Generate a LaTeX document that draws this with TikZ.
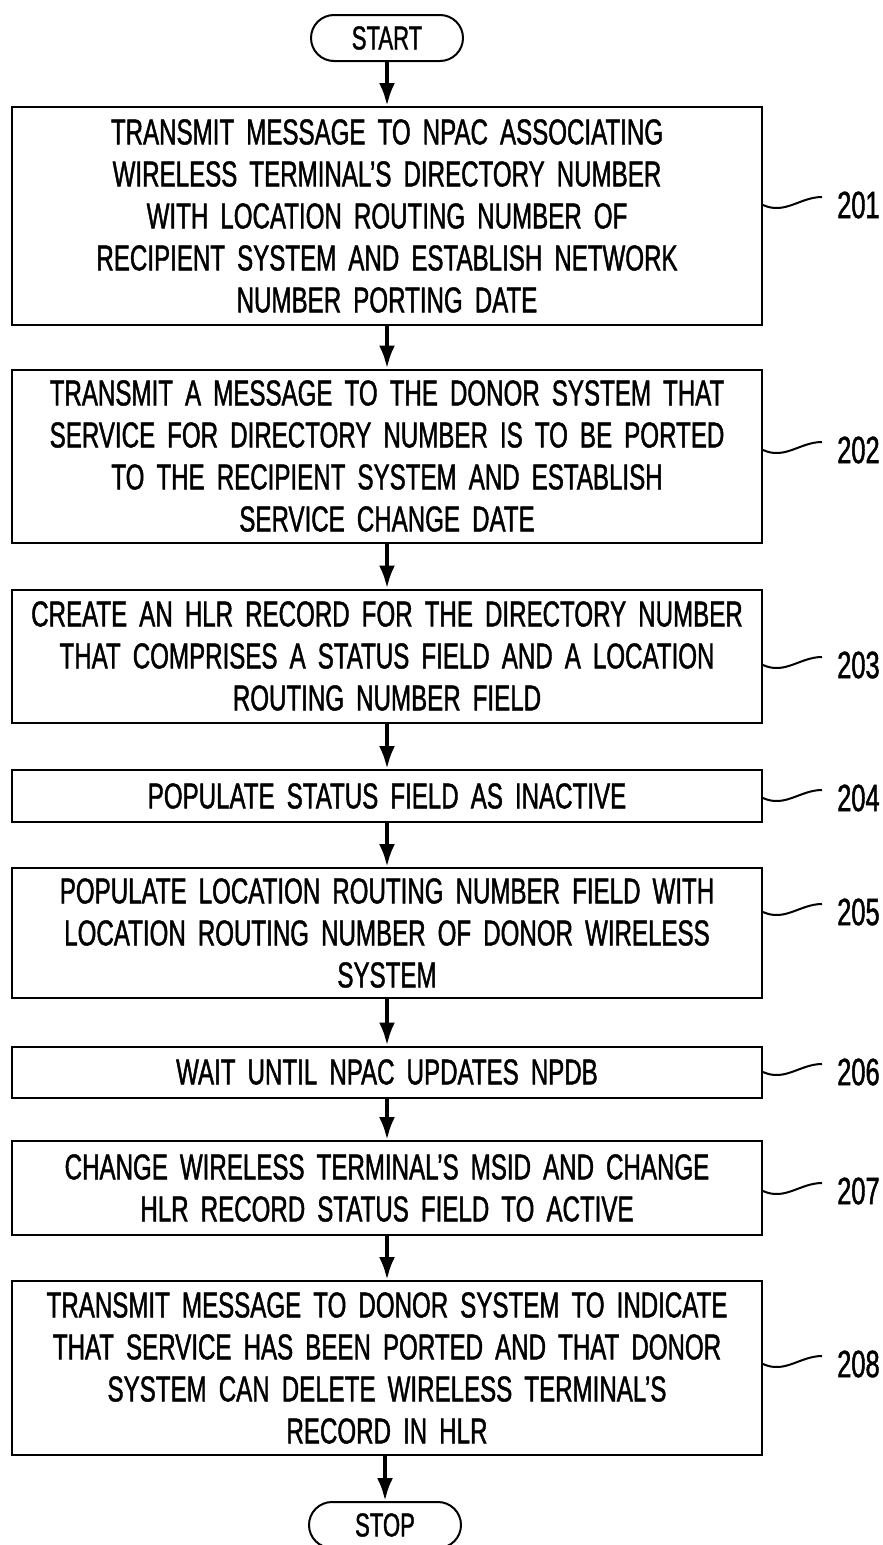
\documentclass[tikz,border=0pt]{standalone}
\usepackage{fontspec}
\setmainfont{Liberation Sans}[FakeStretch=0.67, WordSpace=1.8, FakeBold=1.2]
\usetikzlibrary{arrows.meta}
\tikzset{>={Latex[width=16pt,length=23pt]}}

\begin{document}
\begin{tikzpicture}[x=1pt, y=-1pt,
  stepbox/.style={draw, line width=2pt, minimum width=750pt, inner sep=0pt,
    align=center, font=\fontsize{36}{42}\selectfont},
  termbox/.style={draw, line width=2pt, rounded corners=23pt, minimum width=152pt,
    minimum height=46pt, inner sep=0pt, font=\fontsize{33}{38}\selectfont},
  reflabel/.style={anchor=west, inner sep=0pt, font=\fontsize{38}{42}\selectfont},
  flow/.style={->, line width=4pt},
  lead/.style={line width=2pt}]

\useasboundingbox (0,0) rectangle (883,1545);

%% start and stop
\node[termbox] (start) at (387,38) {START};
\node[termbox] (stop) at (385,1525) {STOP};

%% steps
\node[stepbox, minimum height=218pt] (b201) at (387,216)
{TRANSMIT MESSAGE TO NPAC ASSOCIATING\\WIRELESS TERMINAL'S DIRECTORY NUMBER\\
WITH LOCATION ROUTING NUMBER OF\\RECIPIENT SYSTEM AND ESTABLISH NETWORK\\
NUMBER PORTING DATE};
\node[stepbox, minimum height=173pt] (b202) at (387,456)
{TRANSMIT A MESSAGE TO THE DONOR SYSTEM THAT\\SERVICE FOR DIRECTORY NUMBER IS TO BE PORTED\\
TO THE RECIPIENT SYSTEM AND ESTABLISH\\SERVICE CHANGE DATE};
\node[stepbox, minimum height=133pt] (b203) at (387,656)
{CREATE AN HLR RECORD FOR THE DIRECTORY NUMBER\\THAT COMPRISES A STATUS FIELD AND A LOCATION\\
ROUTING NUMBER FIELD};
\node[stepbox, minimum height=52pt] (b204) at (387,796)
{POPULATE STATUS FIELD AS INACTIVE};
\node[stepbox, minimum height=130pt] (b205) at (387,933)
{POPULATE LOCATION ROUTING NUMBER FIELD WITH\\LOCATION ROUTING NUMBER OF DONOR WIRELESS\\
SYSTEM};
\node[stepbox, minimum height=51pt] (b206) at (387,1072)
{WAIT UNTIL NPAC UPDATES NPDB};
\node[stepbox, minimum height=94pt] (b207) at (387,1188)
{CHANGE WIRELESS TERMINAL'S MSID AND CHANGE\\HLR RECORD STATUS FIELD TO ACTIVE};
\node[stepbox, minimum height=174pt] (b208) at (387,1368)
{TRANSMIT MESSAGE TO DONOR SYSTEM TO INDICATE\\THAT SERVICE HAS BEEN PORTED AND THAT DONOR\\
SYSTEM CAN DELETE WIRELESS TERMINAL'S\\RECORD IN HLR};

%% flow arrows
\draw[flow] (start) -- (b201);
\draw[flow] (b201) -- (b202);
\draw[flow] (b202) -- (b203);
\draw[flow] (b203) -- (b204);
\draw[flow] (b204) -- (b205);
\draw[flow] (b205) -- (b206);
\draw[flow] (b206) -- (b207);
\draw[flow] (b207) -- (b208);
\draw[flow] (b208.south -| stop.north) -- (stop);

%% reference numbers
\node[reflabel] (l201) at (837,205) {201};
\node[reflabel] (l202) at (837,450) {202};
\node[reflabel] (l203) at (837,665) {203};
\node[reflabel] (l204) at (837,798) {204};
\node[reflabel] (l205) at (837,912) {205};
\node[reflabel] (l206) at (837,1072) {206};
\node[reflabel] (l207) at (837,1191) {207};
\node[reflabel] (l208) at (837,1364) {208};

\draw[lead] (b201.east |- l201.west) .. controls +(22,10) and +(-22,0) .. ([xshift=-15pt,yshift=8pt]l201.west);
\draw[lead] (b202.east |- l202.west) .. controls +(22,10) and +(-22,0) .. ([xshift=-15pt,yshift=8pt]l202.west);
\draw[lead] (b203.east |- l203.west) .. controls +(22,10) and +(-22,0) .. ([xshift=-15pt,yshift=8pt]l203.west);
\draw[lead] (b204.east |- l204.west) .. controls +(22,10) and +(-22,0) .. ([xshift=-15pt,yshift=8pt]l204.west);
\draw[lead] (b205.east |- l205.west) .. controls +(22,10) and +(-22,0) .. ([xshift=-15pt,yshift=8pt]l205.west);
\draw[lead] (b206.east |- l206.west) .. controls +(22,10) and +(-22,0) .. ([xshift=-15pt,yshift=8pt]l206.west);
\draw[lead] (b207.east |- l207.west) .. controls +(22,10) and +(-22,0) .. ([xshift=-15pt,yshift=8pt]l207.west);
\draw[lead] (b208.east |- l208.west) .. controls +(22,10) and +(-22,0) .. ([xshift=-15pt,yshift=8pt]l208.west);
\end{tikzpicture}
\end{document}
